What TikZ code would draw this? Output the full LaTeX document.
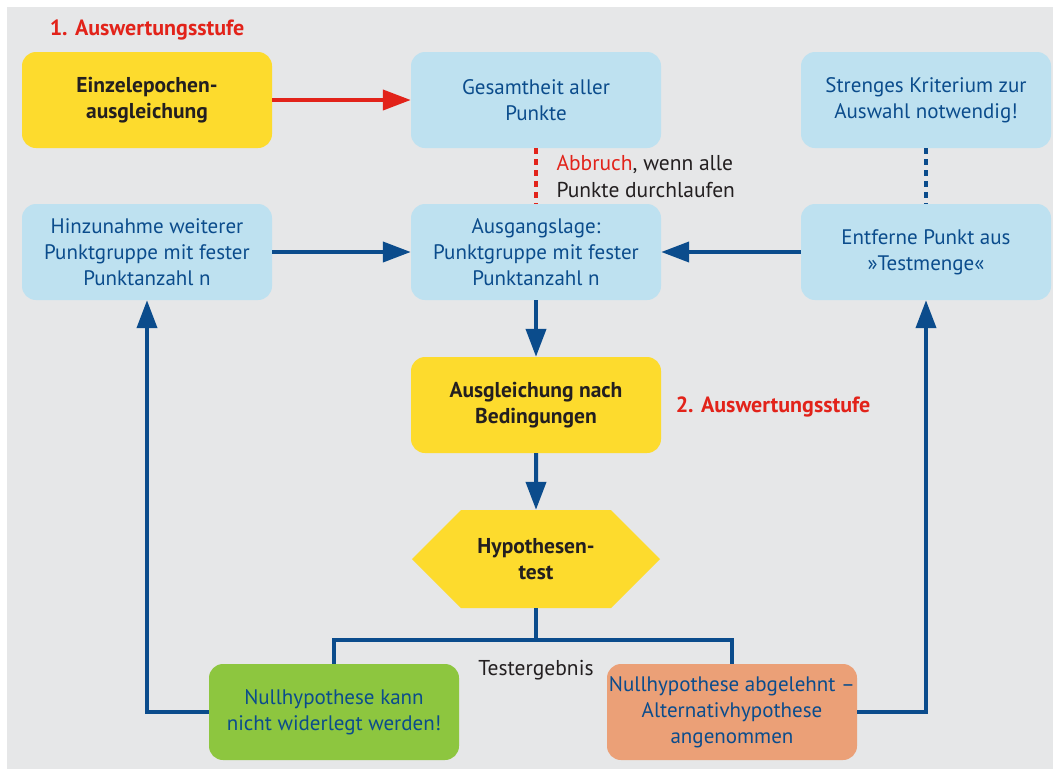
\documentclass[tikz,border=0pt]{standalone}
\usepackage{fontspec}
\setmainfont{PT Sans}
\usepackage{tikz}
\usetikzlibrary{arrows.meta}
\usetikzlibrary{shapes.symbols}
\definecolor{bggray}{HTML}{E6E7E8}
\definecolor{boxblue}{HTML}{BEE1F0}
\definecolor{boxyellow}{HTML}{FDDB2D}
\definecolor{boxgreen}{HTML}{8DC63F}
\definecolor{boxorange}{HTML}{EBA077}
\definecolor{darkblue}{HTML}{0B4C8C}
\definecolor{stufered}{HTML}{E2231A}
\definecolor{darktext}{HTML}{231F20}
\tikzset{
  box/.style={rounded corners=14pt, minimum width=250pt, minimum height=96pt,
    align=center, inner sep=1pt, font=\fontsize{21}{26}\selectfont},
  bluebox/.style={box, fill=boxblue, text=darkblue},
  yellowbox/.style={box, fill=boxyellow, text=darktext, font=\fontsize{21.5}{26}\selectfont\bfseries},
  stufe/.style={text=stufered, font=\fontsize{22}{24}\selectfont\bfseries},
  flow/.style={draw=darkblue, line width=4pt},
  arrow/.style={flow, -{Triangle[length=28pt,width=20pt]}}
}
\begin{document}
\begin{tikzpicture}[x=1pt,y=-1pt]
      \useasboundingbox (0,0) rectangle (1053,769);
      \fill[bggray] (7,7) rectangle (1053,769);

      \node[stufe] (stufe1) at (147,30) {1. Auswertungsstufe};
      \node[yellowbox] (einzel) at (147,100) {Einzelepochen-\\ausgleichung};
      \node[bluebox] (gesamt) at (536,100) {Gesamtheit aller\\Punkte};
      \node[bluebox] (kriterium) at (926,100) {Strenges Kriterium zur\\Auswahl notwendig!};

      \node[align=left, text=darktext, anchor=west, font=\fontsize{21.5}{27}\selectfont] (abbruch) at (553,176)
        {\textcolor{stufered}{Abbruch}, wenn alle\\Punkte durchlaufen};

      \node[bluebox] (hinzu) at (147,252) {Hinzunahme weiterer\\Punktgruppe mit fester\\Punktanzahl n};
      \node[bluebox] (ausgang) at (536,252) {Ausgangslage:\\Punktgruppe mit fester\\Punktanzahl n};
      \node[bluebox] (entferne) at (926,252) {Entferne Punkt aus\\»Testmenge«};

      \node[yellowbox] (ausgl) at (536,405) {Ausgleichung nach\\Bedingungen};
      \node[stufe] (stufe2) at (773,407) {2. Auswertungsstufe};

      \node[yellowbox, shape=signal, signal to=east and west, signal pointer angle=90,
        rounded corners=0pt, minimum width=248pt, minimum height=98pt] (hypo) at (536,559) {Hypothesen-\\test};

      \coordinate (split) at (536,640);
      \node[text=darktext, font=\fontsize{21.5}{24}\selectfont] (ergebnis) at (536,670) {Testergebnis};

      \node[box, fill=boxgreen, text=darkblue] (nullok) at (334,712) {Nullhypothese kann\\nicht widerlegt werden!};
      \node[box, fill=boxorange, text=darkblue, inner sep=0pt] (abgelehnt) at (732,712) {Nullhypothese abgelehnt –\\Alternativhypothese\\angenommen};

      \draw[draw=stufered, line width=4pt, -{Triangle[length=28pt,width=20pt]}] (einzel) -- (gesamt);
      \draw[draw=stufered, line width=4pt, dash pattern=on 6pt off 5pt] (gesamt) -- (ausgang);
      \draw[flow, dash pattern=on 6pt off 5pt] (kriterium) -- (entferne);
      \draw[arrow] (hinzu) -- (ausgang);
      \draw[arrow] (entferne) -- (ausgang);
      \draw[arrow] (ausgang) -- (ausgl);
      \draw[arrow] (ausgl) -- (hypo);
      \draw[flow] (hypo.south) -- (split);
      \draw[flow] (nullok) |- (split) -| (abgelehnt);
      \draw[arrow] (nullok.west) -| (hinzu);
      \draw[arrow] (abgelehnt.east) -| (entferne);
    \end{tikzpicture}
\end{document}
